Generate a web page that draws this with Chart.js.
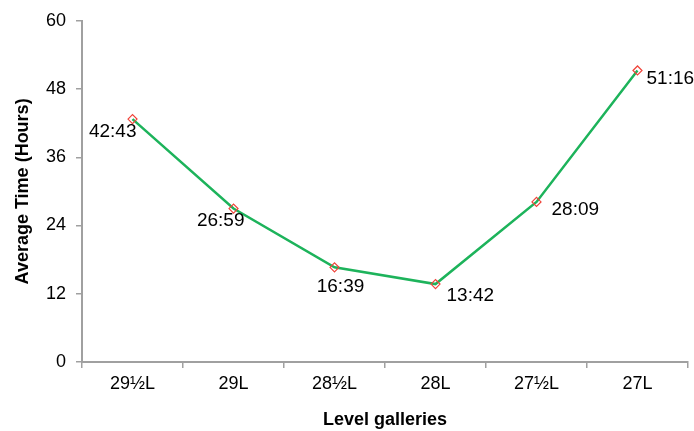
<!DOCTYPE html>
<html>
<head>
<meta charset="utf-8">
<script src="https://cdn.jsdelivr.net/npm/chart.js@4"></script>
<style>
  html, body { margin: 0; padding: 0; background: #fff; }
  #wrap { width: 694px; height: 431px; }
</style>
</head>
<body>
<div id="wrap"><canvas id="c" width="694" height="431"></canvas></div>
<script>
// data
const galleries = ["29\u00BDL", "29L", "28\u00BDL", "28L", "27\u00BDL", "27L"];
const avgTimes = ["42:43", "26:59", "16:39", "13:42", "28:09", "51:16"];
const yTicks = [0, 12, 24, 36, 48, 60];

const hours = avgTimes.map((t) => {
  const [h, m] = t.split(":").map(Number);
  return h + m / 60;
});

// where each value label sits relative to its point (dx, dy, align)
const labelOffsets = [
  [4, 13, "right"],
  [11, 12, "right"],
  [6, 19, "center"],
  [11, 12, "left"],
  [15, 8, "left"],
  [9, 8, "left"],
];

const valueLabels = {
  id: "valueLabels",
  afterDatasetsDraw(chart) {
    const ctx = chart.ctx;
    const meta = chart.getDatasetMeta(0);
    ctx.save();
    ctx.font = "19px 'Liberation Sans', Arial, sans-serif";
    ctx.fillStyle = "#000";
    ctx.textBaseline = "middle";
    meta.data.forEach((pt, i) => {
      const [dx, dy, align] = labelOffsets[i];
      ctx.textAlign = align;
      ctx.fillText(avgTimes[i], pt.x + dx, pt.y + dy);
    });
    ctx.restore();
  },
};

const axisGrey = "#a0a0a0";
const tickFont = { family: "'Liberation Sans', Arial, sans-serif", size: 18 };
const titleFont = { family: "'Liberation Sans', Arial, sans-serif", size: 18, weight: "bold" };

new Chart(document.getElementById("c").getContext("2d"), {
  type: "line",
  data: {
    labels: galleries,
    datasets: [
      {
        data: hours,
        borderColor: "#1db35b",
        borderWidth: 2.5,
        tension: 0,
        pointStyle: "rectRot",
        pointRadius: 4.5,
        pointBorderColor: "#f0443a",
        pointBackgroundColor: "rgba(255,255,255,0)",
        pointBorderWidth: 1.2,
      },
    ],
  },
  options: {
    responsive: false,
    animation: false,
    devicePixelRatio: 1,
    layout: { padding: { top: 20, right: 6, left: 0, bottom: 0 } },
    plugins: { legend: { display: false }, tooltip: { enabled: false } },
    scales: {
      x: {
        offset: true,
        grid: { offset: true, drawOnChartArea: false, drawTicks: true, tickLength: 6, color: axisGrey, lineWidth: 1.5 },
        border: { color: axisGrey, width: 2 },
        ticks: { color: "#000", font: tickFont, padding: 5, maxRotation: 0 },
        title: { display: true, text: "Level galleries", color: "#000", font: titleFont, padding: { top: 6, bottom: 0 } },
        afterFit(scale) { scale.height = 69; },
      },
      y: {
        min: 0,
        max: 60,
        afterBuildTicks(scale) { scale.ticks = yTicks.map((v) => ({ value: v })); },
        grid: { drawOnChartArea: false, drawTicks: true, tickLength: 6, color: axisGrey, lineWidth: 1.5 },
        border: { color: axisGrey, width: 2 },
        ticks: { color: "#000", font: tickFont, padding: 10 },
        title: { display: true, text: "Average Time (Hours)", color: "#000", font: titleFont, padding: { top: 12, bottom: 4 } },
        afterFit(scale) { scale.width = 82; },
      },
    },
  },
  plugins: [valueLabels],
});
</script>
</body>
</html>
